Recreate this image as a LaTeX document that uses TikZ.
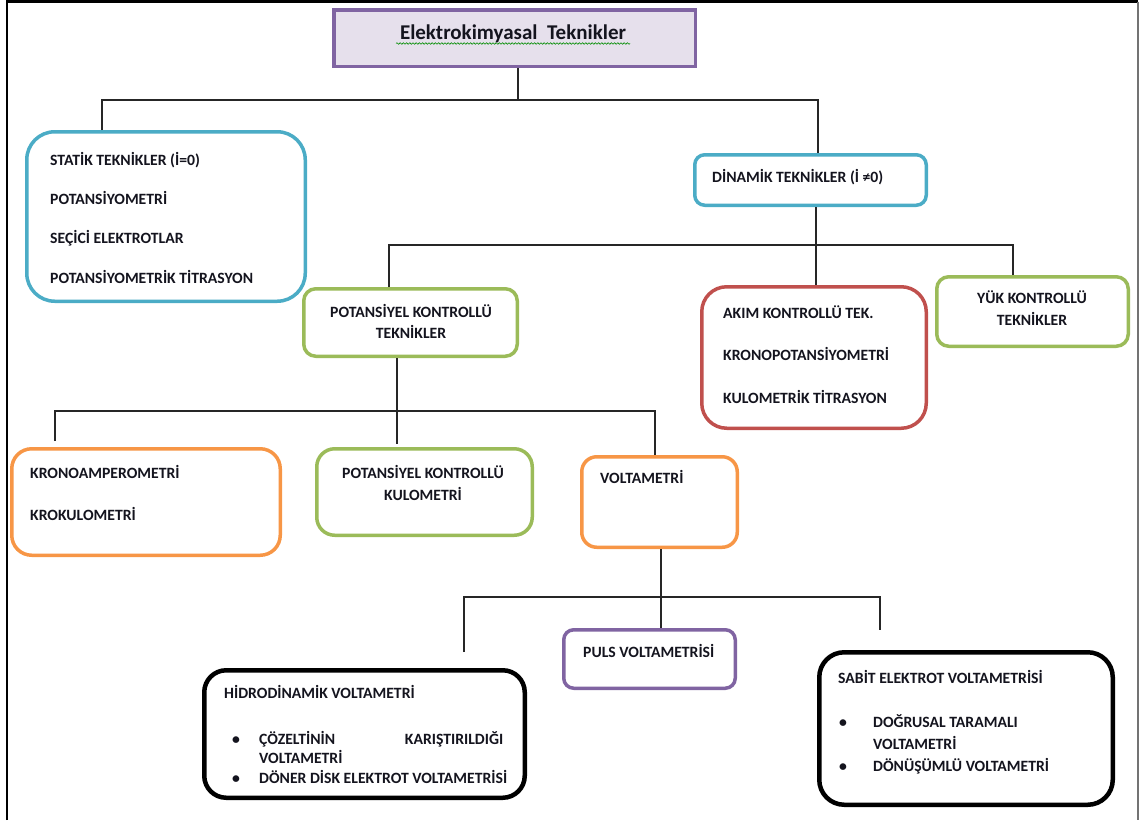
\documentclass[tikz,border=0pt]{standalone}
\usepackage{fontspec}
\setmainfont{Carlito}
\usetikzlibrary{decorations.pathmorphing}
\definecolor{tekblue}{RGB}{75,172,198}
\definecolor{tekgreen}{RGB}{155,187,89}
\definecolor{tekred}{RGB}{192,80,77}
\definecolor{tekorange}{RGB}{247,150,70}
\definecolor{tekpurple}{RGB}{128,100,162}
\definecolor{tekink}{RGB}{20,20,30}
\newcommand{\tekfont}[1]{\fontsize{15.7}{#1}\selectfont\bfseries}
\newcommand{\tekbul}[1]{\makebox[#1][l]{\textbullet}}

\begin{document}
\begin{tikzpicture}[
  x=1pt,y=-1pt,
  box/.style={rectangle,draw,line width=3.5pt,fill=white,inner sep=0},
  lbl/.style={inner sep=0,align=left,anchor=base west,text=tekink},
  clbl/.style={inner sep=0,align=center,anchor=base,text=tekink},
  cn/.style={line width=1.2pt,draw=black!85}
]
\useasboundingbox (0,0) rectangle (1140,820);
% page frame
\draw[line width=2.3pt] (7,820) -- (7,1.5) -- (1138,1.5);
\draw[line width=1.6pt,black!55] (1138,1.5) -- (1138,820);

% boxes
\node[box,draw=tekpurple,fill=tekpurple!20,minimum width=361.5,minimum height=56.5] (ttl) at (514.5,38) {};
\node[box,draw=tekblue,rounded corners=28,minimum width=278.5,minimum height=169.5] (stat) at (166,216.5) {};
\node[box,draw=tekblue,rounded corners=10,minimum width=231.5,minimum height=50.5] (dyn) at (810.5,180) {};
\node[box,draw=tekgreen,rounded corners=12,minimum width=213.5,minimum height=67.5] (pkt) at (410.5,322.5) {};
\node[box,draw=tekred,rounded corners=25,minimum width=224.5,minimum height=141.5] (akim) at (814,357.5) {};
\node[box,draw=tekgreen,rounded corners=12,minimum width=191.5,minimum height=69.5] (yuk) at (1032.5,311.5) {};
\node[box,draw=tekorange,rounded corners=20,minimum width=268.5,minimum height=106.5] (kro) at (146,502) {};
\node[box,draw=tekgreen,rounded corners=18,minimum width=215.5,minimum height=86.5] (pkk) at (424.5,492) {};
\node[box,draw=tekorange,rounded corners=15,minimum width=155.5,minimum height=90.5] (volt) at (659.5,502) {};
\node[box,draw=tekpurple,rounded corners=10,minimum width=171.5,minimum height=58.5] (puls) at (649.5,659) {};
\node[box,draw=black,line width=4.5pt,rounded corners=22,minimum width=320.5,minimum height=127.5] (hid) at (364.5,734) {};
\node[box,draw=black,line width=4.5pt,rounded corners=25,minimum width=293.5,minimum height=152.5] (sab) at (966,728.5) {};

% texts (multi-line labels sit on the baseline of their last line)
\node[clbl,font=\fontsize{21}{25}\selectfont\bfseries] (ttlt) at (513,39) {Elektrokimyasal\ \ Teknikler};
\draw[decorate,decoration={snake,amplitude=0.8pt,segment length=3.2pt},green!55!black,line width=0.6pt]
  ([xshift=-117,yshift=-4.5]ttlt.base) -- ([xshift=117,yshift=-4.5]ttlt.base);
\node[lbl,font=\tekfont{39.3}] (statt) at (50,283) {STATİK TEKNİKLER (İ=0)\\POTANSİYOMETRİ\\SEÇİCİ ELEKTROTLAR\\POTANSİYOMETRİK TİTRASYON};
\node[lbl,font=\tekfont{18}] (dynt) at (712,182) {DİNAMİK TEKNİKLER (İ ≠0)};
\node[clbl,font=\tekfont{21}] (pktt) at (411,338) {POTANSİYEL KONTROLLÜ\\TEKNİKLER};
\node[lbl,font=\tekfont{42.5}] (akimt) at (723,403) {AKIM KONTROLLÜ TEK.\\KRONOPOTANSİYOMETRİ\\KULOMETRİK TİTRASYON};
\node[clbl,font=\tekfont{22}] (yukt) at (1032,325) {YÜK KONTROLLÜ\\TEKNİKLER};
\node[lbl,font=\tekfont{42}] (krot) at (30,520) {KRONOAMPEROMETRİ\\KROKULOMETRİ};
\node[clbl,font=\tekfont{22}] (pkkt) at (423,500) {POTANSİYEL KONTROLLÜ\\KULOMETRİ};
\node[lbl,font=\tekfont{18}] (voltt) at (600,483) {VOLTAMETRİ};
\node[lbl,font=\tekfont{18}] (pulst) at (583,657) {PULS VOLTAMETRİSİ};
\node[lbl,font=\tekfont{20}] (hidt) at (224,783) {HİDRODİNAMİK VOLTAMETRİ\\[26pt]
  \hspace*{8pt}\tekbul{27pt}\makebox[244pt][s]{ÇÖZELTİNİN\hfill KARIŞTIRILDIĞI}\\[-1pt]
  \hspace*{35pt}VOLTAMETRİ\\
  \hspace*{8pt}\tekbul{27pt}DÖNER DİSK ELEKTROT VOLTAMETRİSİ};
\node[lbl,font=\tekfont{22}] (sabt) at (838,771) {SABİT ELEKTROT VOLTAMETRİSİ\\[22pt]
  \hspace*{1pt}\tekbul{34pt}DOĞRUSAL TARAMALI\\
  \hspace*{35pt}VOLTAMETRİ\\
  \hspace*{1pt}\tekbul{34pt}DÖNÜŞÜMLÜ VOLTAMETRİ};

% tree connectors
\coordinate (b1l) at (102,100);
\coordinate (b1r) at (818,100);
\draw[cn] ([xshift=3.5]ttl.south) -- ([xshift=3.5]ttl.south |- b1l);
\draw[cn] (stat.north -| b1l) -- (b1l) -- (b1r) -- (dyn.north -| b1r);

\coordinate (b2l) at (389,245);
\coordinate (b2m) at (816,245);
\coordinate (b2r) at (1013,245);
\draw[cn] (dyn.south -| b2m) -- (b2m) -- (akim.north -| b2m);
\draw[cn] (pkt.north -| b2l) -- (b2l) -- (b2r) -- (yuk.north -| b2r);

\coordinate (b3l) at (55,411);
\coordinate (b3m) at (397,411);
\coordinate (b3r) at (655,411);
\draw[cn] (pkt.south -| b3m) -- ([yshift=3]pkk.north -| b3m);
\draw[cn] ([yshift=6]kro.north -| b3l) -- (b3l) -- (b3r) -- (volt.north -| b3r);

\coordinate (b4l) at (464,597);
\coordinate (b4m) at (661,597);
\coordinate (b4r) at (880,597);
\draw[cn] (volt.south -| b4m) -- (puls.north -| b4m);
\draw[cn] ([yshift=16]hid.north -| b4l) -- (b4l) -- (b4r) -- ([yshift=20]sab.north -| b4r);
\end{tikzpicture}
\end{document}
